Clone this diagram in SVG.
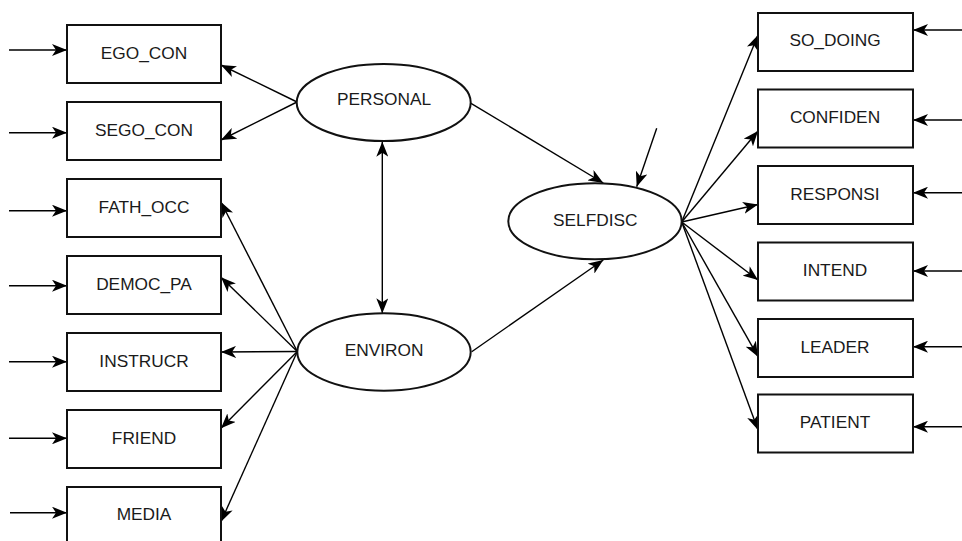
<svg xmlns="http://www.w3.org/2000/svg" width="962" height="541" viewBox="0 0 962 541">
<style>
.box{fill:#fff;stroke:#111;stroke-width:2}
.ell{fill:#fff;stroke:#111;stroke-width:2}
.lbl{font-family:"Liberation Sans",Arial,sans-serif;font-size:17.3px;fill:#1a1a1a;text-anchor:middle}
.c{fill:none;stroke:#000;stroke-width:1.4;marker-end:url(#ah)}
</style>
<defs>
<marker id="ah" viewBox="0 0 15 12" refX="15" refY="6" markerWidth="15" markerHeight="12" markerUnits="userSpaceOnUse" orient="auto-start-reverse">
<path d="M0,0 L15,6 L0,12 L4,6 Z" fill="#000"/>
</marker>
</defs>
<rect width="962" height="541" fill="#fff"/>
<g id="connectors">
<line class="c" x1="9" y1="50" x2="67" y2="50"/>
<line class="c" x1="9" y1="132.7" x2="67" y2="132.7"/>
<line class="c" x1="9" y1="210.7" x2="67" y2="210.7"/>
<line class="c" x1="9" y1="285.7" x2="67" y2="285.7"/>
<line class="c" x1="9" y1="361.7" x2="67" y2="361.7"/>
<line class="c" x1="9" y1="438.3" x2="67" y2="438.3"/>
<line class="c" x1="10" y1="512.7" x2="67" y2="512.7"/>
<line class="c" x1="962" y1="30" x2="913" y2="30"/>
<line class="c" x1="962" y1="120" x2="913" y2="120"/>
<line class="c" x1="962" y1="192.7" x2="913" y2="192.7"/>
<line class="c" x1="962" y1="271" x2="913" y2="271"/>
<line class="c" x1="962" y1="346.7" x2="913" y2="346.7"/>
<line class="c" x1="962" y1="426.7" x2="913" y2="426.7"/>
<line class="c" x1="297" y1="102" x2="221" y2="65"/>
<line class="c" x1="297" y1="102" x2="221" y2="140"/>
<line class="c" x1="297.3" y1="351.5" x2="221" y2="202"/>
<line class="c" x1="297.3" y1="351.5" x2="221" y2="277.3"/>
<line class="c" x1="297.3" y1="351.5" x2="221" y2="352"/>
<line class="c" x1="297.3" y1="351.5" x2="221" y2="428.3"/>
<line class="c" x1="297.3" y1="351.5" x2="221" y2="521.7"/>
<line class="c" x1="382.3" y1="141.7" x2="382.3" y2="313.3" style="marker-start:url(#ah)"/>
<line class="c" x1="471" y1="103.3" x2="603.3" y2="183"/>
<line class="c" x1="471.7" y1="351.7" x2="603.3" y2="260"/>
<line class="c" x1="656.7" y1="128.3" x2="636.7" y2="186.7"/>
<line class="c" x1="681.7" y1="222" x2="758" y2="35"/>
<line class="c" x1="681.7" y1="222" x2="758" y2="131"/>
<line class="c" x1="681.7" y1="222" x2="758" y2="204.5"/>
<line class="c" x1="681.7" y1="222" x2="758" y2="280"/>
<line class="c" x1="681.7" y1="222" x2="758" y2="356.7"/>
<line class="c" x1="681.7" y1="222" x2="758" y2="430"/>
</g>
<g id="EGO_CON"><rect class="box" x="67" y="25" width="154" height="58"/><text class="lbl" x="144" y="59">EGO_CON</text></g>
<g id="SEGO_CON"><rect class="box" x="67" y="102" width="154" height="58"/><text class="lbl" x="144" y="136">SEGO_CON</text></g>
<g id="FATH_OCC"><rect class="box" x="67" y="179" width="154" height="58"/><text class="lbl" x="144" y="213">FATH_OCC</text></g>
<g id="DEMOC_PA"><rect class="box" x="67" y="256" width="154" height="58"/><text class="lbl" x="144" y="290">DEMOC_PA</text></g>
<g id="INSTRUCR"><rect class="box" x="67" y="333" width="154" height="58"/><text class="lbl" x="144" y="367">INSTRUCR</text></g>
<g id="FRIEND"><rect class="box" x="67" y="410" width="154" height="58"/><text class="lbl" x="144" y="444">FRIEND</text></g>
<g id="MEDIA"><rect class="box" x="67" y="487" width="154" height="58"/><text class="lbl" x="144" y="520">MEDIA</text></g>
<g id="PERSONAL"><ellipse class="ell" cx="383.7" cy="102.5" rx="87" ry="38.5"/><text class="lbl" x="384" y="105">PERSONAL</text></g>
<g id="ENVIRON"><ellipse class="ell" cx="384" cy="352" rx="86.7" ry="38.7"/><text class="lbl" x="384" y="356">ENVIRON</text></g>
<g id="SELFDISC"><ellipse class="ell" cx="595" cy="221.3" rx="86.7" ry="38"/><text class="lbl" x="595.3" y="226">SELFDISC</text></g>
<g id="SO_DOING"><rect class="box" x="758" y="13" width="155" height="58"/><text class="lbl" x="835" y="46">SO_DOING</text></g>
<g id="CONFIDEN"><rect class="box" x="758" y="89.5" width="155" height="58"/><text class="lbl" x="835" y="122.7">CONFIDEN</text></g>
<g id="RESPONSI"><rect class="box" x="758" y="166" width="155" height="58"/><text class="lbl" x="835" y="199.5">RESPONSI</text></g>
<g id="INTEND"><rect class="box" x="758" y="242.5" width="155" height="58"/><text class="lbl" x="835" y="276">INTEND</text></g>
<g id="LEADER"><rect class="box" x="758" y="319" width="155" height="58"/><text class="lbl" x="835" y="352.5">LEADER</text></g>
<g id="PATIENT"><rect class="box" x="758" y="394.5" width="155" height="58"/><text class="lbl" x="835" y="428.3">PATIENT</text></g>
</svg>
